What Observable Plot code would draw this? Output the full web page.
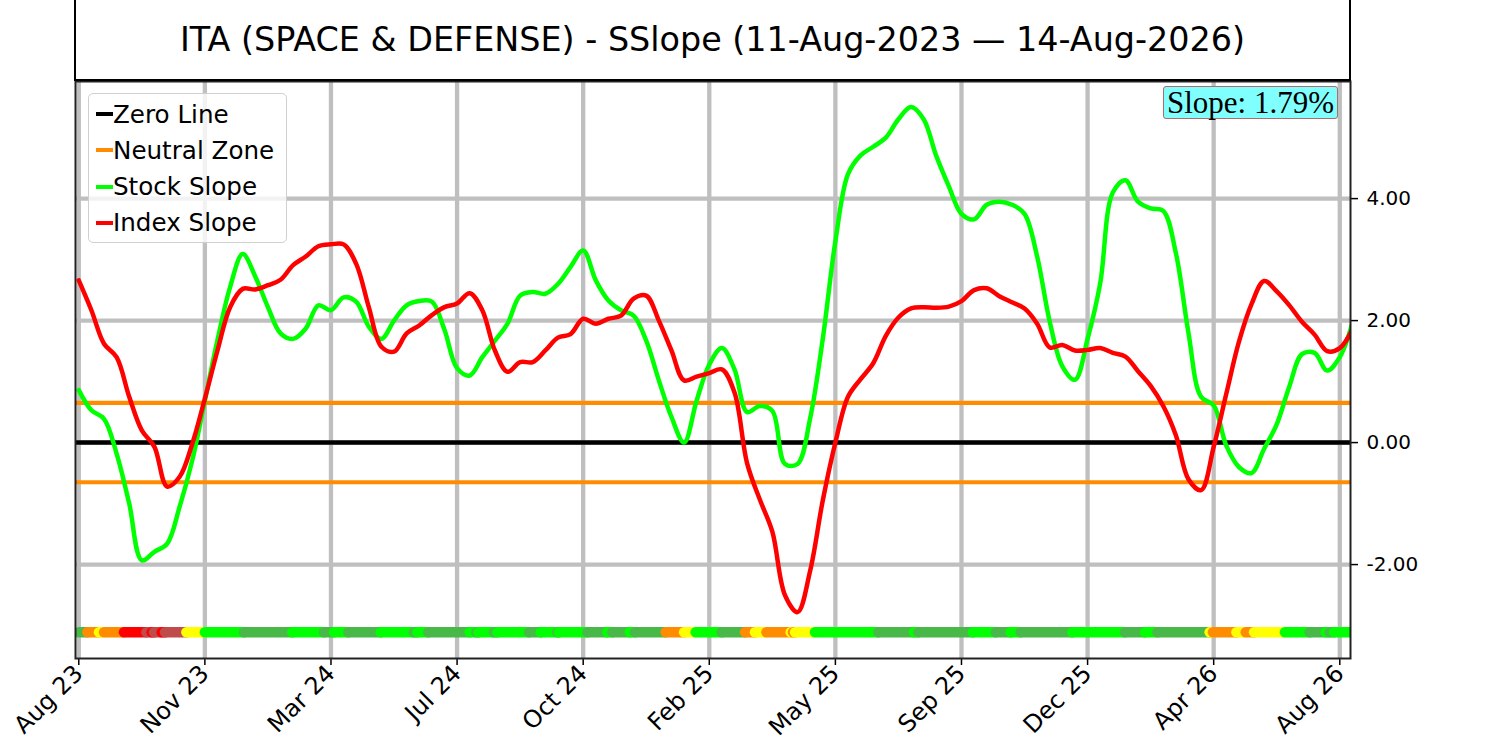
<!DOCTYPE html>
<html>
<head>
<meta charset="utf-8">
<script src="https://cdn.jsdelivr.net/npm/d3@7"></script>
<script src="https://cdn.jsdelivr.net/npm/@observablehq/plot@0.6"></script>
<style>
  body { margin: 0; background: #fff; font-family: "DejaVu Sans", sans-serif; }
  #wrap { position: relative; width: 1500px; height: 741px; overflow: hidden; }
  #title { position: absolute; left: 74px; top: -2px; width: 1277px; height: 83px; border: 2px solid #000; box-sizing: border-box;
           display: flex; align-items: center; justify-content: center; font-size: 33.4px; color: #000; background: #fff; }
  #legend { position: absolute; left: 88px; top: 93px; width: 199px; height: 150px; box-sizing: border-box;
            border: 1.5px solid #d0d0d0; border-radius: 5px; background: rgba(255,255,255,0.8); }
  .row { position: absolute; left: 0; height: 30px; display: flex; align-items: center; font-size: 24.6px; color: #000; white-space: nowrap; }
  .hd { width: 17px; height: 4px; margin-left: 7px; margin-right: 0px; }
  #slope { position: absolute; left: 1163px; top: 86px; width: 175px; height: 33px; box-sizing: border-box;
           border: 1.5px solid #b06a6a; border-radius: 3px; background: #80ffff;
           font-family: "Liberation Serif", serif; font-size: 31px; line-height: 31px; text-align: center; color: #000; white-space: nowrap; }
</style>
</head>
<body>
<div id="wrap">
  <div id="chart"></div>
  <div id="title"></div>
  <div id="legend"></div>
  <div id="slope"></div>
</div>
<script>
// ---- data ----
const titleText = "ITA (SPACE & DEFENSE) - SSlope (11-Aug-2023 — 14-Aug-2026)";
const slopeText = "Slope: 1.79%";

// x positions: evenly spaced samples, ticks every 10 samples
const tickPos = [0, 10, 20, 30, 40, 50, 60, 70, 80, 90, 100];
const tickLabels = ["Aug 23", "Nov 23", "Mar 24", "Jul 24", "Oct 24", "Feb 25", "May 25", "Sep 25", "Dec 25", "Apr 26", "Aug 26"];
const yTicks = [-2, 0, 2, 4];

const stockSlope = [
  0.86, 0.53, 0.39, -0.18, -1.0, -1.93, -1.79, -1.66, -1.05, -0.29,
  0.69, 1.68, 2.55, 3.09, 2.72, 2.22, 1.79, 1.70, 1.87, 2.25,
  2.17, 2.38, 2.31, 1.90, 1.70, 2.0, 2.25, 2.32, 2.31, 1.85,
  1.22, 1.10, 1.40, 1.67, 1.95, 2.41, 2.47, 2.44, 2.60, 2.88,
  3.15, 2.66, 2.33, 2.17, 2.08, 1.67, 1.02, 0.42, 0.0, 0.69,
  1.28, 1.55, 1.20, 0.50, 0.60, 0.52, -0.35, -0.35, 0.40, 1.70,
  3.30, 4.40, 4.71, 4.85, 5.0, 5.30, 5.50, 5.30, 4.70, 4.20,
  3.75, 3.66, 3.90, 3.95, 3.90, 3.75, 3.05, 1.98, 1.25, 1.03,
  1.70, 2.61, 4.10, 4.30, 3.95, 3.84, 3.80, 3.11, 1.80, 0.75,
  0.61, -0.05, -0.40, -0.50, -0.10, 0.30, 0.92, 1.45, 1.47, 1.18,
  1.40, 1.96
];
const indexSlope = [
  2.66, 2.17, 1.62, 1.40, 0.75, 0.20, -0.07, -0.72, -0.56, -0.02,
  0.72, 1.51, 2.22, 2.52, 2.51, 2.58, 2.67, 2.91, 3.05, 3.22,
  3.25, 3.25, 2.93, 2.22, 1.57, 1.49, 1.79, 1.92, 2.09, 2.22,
  2.28, 2.45, 2.17, 1.51, 1.16, 1.32, 1.32, 1.51, 1.72, 1.78,
  2.03, 1.95, 2.03, 2.08, 2.36, 2.41, 2.0, 1.51, 1.02, 1.08,
  1.14, 1.20, 0.82, -0.34, -0.93, -1.46, -2.50, -2.78, -2.10, -0.95,
  0.0, 0.75, 1.04, 1.30, 1.75, 2.05, 2.20, 2.22, 2.21, 2.23,
  2.32, 2.50, 2.53, 2.40, 2.30, 2.20, 1.95, 1.56, 1.60, 1.51,
  1.52, 1.55, 1.47, 1.41, 1.17, 0.93, 0.60, 0.12, -0.60, -0.78,
  -0.07, 0.80, 1.65, 2.27, 2.65, 2.48, 2.25, 1.98, 1.77, 1.50,
  1.55, 1.86
];

const zeroLine = 0;
const neutralZone = [0.65, -0.65];

// signal strip: start position of each colour run and its category
const stripStart = [
  0, 0.68, 1.6, 2.0, 3.58, 5.36, 5.78, 5.97, 6.57, 6.84, 8.53, 10.0, 13.1, 16.94, 19.45, 20.24, 21.38, 23.94,
  26.58, 26.85, 27.72, 31.0, 31.53, 31.69, 32.93, 33.2, 35.7, 36.63, 37.95, 38.08, 40.33, 41.92, 42.31, 43.69,
  44.1, 46.54, 48.0, 48.92, 50.98, 52.83, 53.62, 54.53, 56.45, 56.64, 56.8, 58.38, 63.41, 66.23, 66.58, 70.91,
  72.71, 73.9, 74.69, 78.79, 82.96, 84.55, 85.53, 89.68, 89.94, 91.8, 92.54, 93.2, 95.65, 97.61, 98.88, 99.2, 99.54
];
const stripState = [
  "dg", "or", "ye", "or", "rd", "br", "rd", "br", "rd", "br", "ye", "gr", "dg", "gr", "dg", "gr", "dg", "gr",
  "dg", "gr", "dg", "gr", "dg", "gr", "dg", "gr", "dg", "gr", "dg", "gr", "dg", "gr", "dg", "gr",
  "dg", "or", "ye", "gr", "dg", "or", "ye", "or", "ye", "or", "ye", "gr", "dg", "gr", "dg", "gr",
  "dg", "gr", "dg", "gr", "dg", "gr", "dg", "ye", "or", "ye", "or", "ye", "gr", "dg", "gr", "dg", "gr"
];
const stripEnd = 100.8;
const stripLevel = -3.11;

// ---- styles ----
const stateColor = { gr: "#00ff00", dg: "#48b848", ye: "#ffff00", or: "#ff8c00", rd: "#ff0000", br: "#c04b4b" };
const COL = { zero: "#000000", neutral: "#ff8c00", stock: "#00ff00", index: "#ff0000" };

// ---- build tables ----
const stock = stockSlope.map((v, i) => ({ x: i, y: v }));
const index = indexSlope.map((v, i) => ({ x: i, y: v }));
const runs = stripStart.map((s, i) => ({
  x1: s, x2: i + 1 < stripStart.length ? stripStart[i + 1] : stripEnd, c: stateColor[stripState[i]]
}));

const plot = Plot.plot({
  width: 1500,
  height: 741,
  marginLeft: 75,
  marginRight: 150,
  marginTop: 81,
  marginBottom: 83,
  style: { fontFamily: "DejaVu Sans, sans-serif", background: "#fff", color: "#000" },
  x: { domain: [-0.26, 100.85] },
  y: { domain: [-3.54, 5.92] },
  color: { type: "identity" },
  marks: [
    Plot.gridX({ ticks: tickPos, stroke: "#bfbfbf", strokeOpacity: 1, strokeWidth: 4.3 }),
    Plot.gridY({ ticks: yTicks, stroke: "#bfbfbf", strokeOpacity: 1, strokeWidth: 4.3 }),
    Plot.link(runs, { x1: "x1", x2: "x2", y1: stripLevel, y2: stripLevel, stroke: "c", strokeWidth: 10.5, strokeLinecap: "round", clip: true }),
    Plot.ruleY([zeroLine], { stroke: COL.zero, strokeWidth: 4.5 }),
    Plot.ruleY(neutralZone, { stroke: COL.neutral, strokeWidth: 4.2 }),
    Plot.line(stock, { x: "x", y: "y", stroke: COL.stock, strokeWidth: 4.5, clip: true, curve: "catmull-rom", strokeLinejoin: "round" }),
    Plot.line(index, { x: "x", y: "y", stroke: COL.index, strokeWidth: 4.5, clip: true, curve: "catmull-rom", strokeLinejoin: "round" }),
    Plot.axisX({ ticks: tickPos, tickFormat: d => tickLabels[tickPos.indexOf(d)], tickRotate: -45, fontSize: 24,
                 tickSize: 7, tickPadding: 4, strokeWidth: 1.5, label: null }),
    Plot.axisY({ anchor: "right", ticks: yTicks, tickFormat: d => d.toFixed(2), fontSize: 20,
                 tickSize: 7, tickPadding: 9, strokeWidth: 1.5, label: null }),
    Plot.frame({ stroke: "#222", strokeWidth: 2 })
  ]
});
document.getElementById("chart").appendChild(plot);

document.getElementById("title").textContent = titleText;
document.getElementById("slope").textContent = slopeText;

const legendItems = [
  { label: "Zero Line", color: COL.zero },
  { label: "Neutral Zone", color: COL.neutral },
  { label: "Stock Slope", color: COL.stock },
  { label: "Index Slope", color: COL.index }
];
const legend = document.getElementById("legend");
legendItems.forEach((it, i) => {
  const row = document.createElement("div");
  row.className = "row";
  row.style.top = (5 + i * 36.3) + "px";
  const h = document.createElement("div");
  h.className = "hd";
  h.style.background = it.color;
  const t = document.createElement("span");
  t.textContent = it.label;
  row.appendChild(h);
  row.appendChild(t);
  legend.appendChild(row);
});
</script>
</body>
</html>
